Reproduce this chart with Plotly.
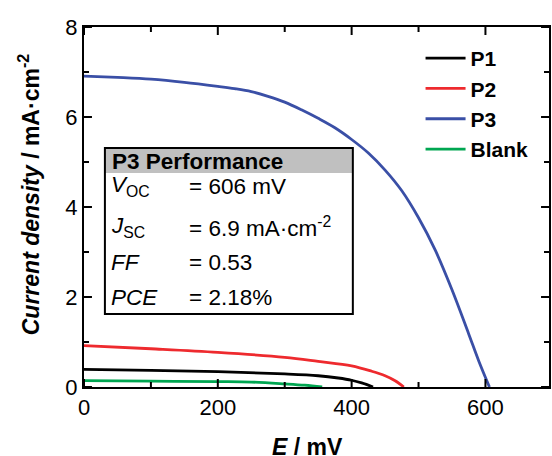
import plotly.graph_objects as go

# ---- data ----
p1_E = [0, 100, 200, 300, 350, 380, 400, 415, 432]
p1_J = [0.39, 0.37, 0.34, 0.29, 0.25, 0.20, 0.15, 0.09, 0.0]

p2_E = [0, 100, 200, 300, 350, 400, 430, 450, 465, 478]
p2_J = [0.92, 0.85, 0.77, 0.66, 0.57, 0.47, 0.35, 0.25, 0.14, 0.0]

p3_E = [0, 50, 100, 150, 200, 225, 250, 275, 300, 325, 350, 375, 400, 425, 450, 475, 500, 525, 550, 575, 590, 606]
p3_J = [6.91, 6.88, 6.84, 6.77, 6.68, 6.63, 6.565, 6.46, 6.33, 6.16, 5.97, 5.76, 5.50, 5.20, 4.82, 4.36, 3.76, 3.04, 2.16, 1.18, 0.58, 0.0]

blank_E = [0, 100, 200, 250, 300, 330, 356]
blank_J = [0.14, 0.13, 0.12, 0.11, 0.07, 0.04, 0.0]

names = ["P1", "P2", "P3", "Blank"]
colors = ["#000000", "#ee2a2e", "#3a4fa6", "#00a651"]

x_major = [0, 200, 400, 600]
x_minor = [100, 300, 500]
y_major = [0, 2, 4, 6, 8]
y_minor = [1, 3, 5, 7]

perf_header = "P3 Performance"
perf_labels = ["<i>V</i><sub>OC</sub>", "<i>J</i><sub>SC</sub>", "<i>FF</i>", "<i>PCE</i>"]
perf_values = ["= 606 mV", "= 6.9 mA·cm<sup>-2</sup>", "= 0.53", "= 2.18%"]

FONT = "Liberation Sans, Arial, sans-serif"

fig = go.Figure()
for i, (E, J) in enumerate([(p1_E, p1_J), (p2_E, p2_J), (p3_E, p3_J), (blank_E, blank_J)]):
    fig.add_trace(go.Scatter(x=E, y=J, mode="lines", name=names[i],
                             line=dict(color=colors[i], width=2.8, shape="spline", smoothing=1.0)))

L, T, W, H = 84, 27, 552, 456
R, B = 1, 69
pw = W - L - R
ph = H - T - B

def px(xp):
    return (xp - L) / pw

def py(yp):
    return (H - B - yp) / ph

axis_common = dict(showline=True, linecolor="black", linewidth=2, mirror=True,
                   ticks="", showgrid=False, zeroline=False,
                   tickfont=dict(family=FONT, size=22, color="black"))

fig.update_xaxes(range=[0, 695], tickmode="array", tickvals=x_major, **axis_common)
fig.update_yaxes(range=[0, 8], tickmode="array", tickvals=y_major, **axis_common)

# inside tick marks on all four sides (drawn at the tick values through the axes)
MAJ, MIN = 8, 5
tick_line = dict(color="black", width=2)
shapes = []
for vals, ln in ((x_major, MAJ), (x_minor, MIN)):
    for v in vals:
        shapes.append(dict(type="line", xref="x", yref="paper", x0=v, x1=v, y0=0, y1=ln / ph, line=tick_line))
        shapes.append(dict(type="line", xref="x", yref="paper", x0=v, x1=v, y0=1, y1=1 - ln / ph, line=tick_line))
for vals, ln in ((y_major, MAJ), (y_minor, MIN)):
    for v in vals:
        shapes.append(dict(type="line", xref="paper", yref="y", x0=0, x1=ln / pw, y0=v, y1=v, line=tick_line))
        shapes.append(dict(type="line", xref="paper", yref="y", x0=1, x1=1 - ln / pw, y0=v, y1=v, line=tick_line))

shapes += [
    dict(type="rect", xref="paper", yref="paper", x0=px(105), x1=px(354), y0=py(173), y1=py(148),
         fillcolor="#c0c0c0", line=dict(width=0), layer="above"),
    dict(type="rect", xref="paper", yref="paper", x0=px(105), x1=px(354), y0=py(314), y1=py(148),
         fillcolor="rgba(0,0,0,0)", line=dict(color="black", width=2), layer="above"),
]

annotations = [
    dict(text="<b><i>E</i> / mV</b>", xref="paper", yref="paper", x=px(308), y=py(447),
         xanchor="center", yanchor="middle", showarrow=False,
         font=dict(family=FONT, size=23, color="black")),
    dict(text="<b><i>Current density</i> / mA·cm<sup>-2</sup></b>", xref="paper", yref="paper",
         x=px(29), y=py(195), textangle=-90, xanchor="center", yanchor="middle", showarrow=False,
         font=dict(family=FONT, size=23, color="black")),
    dict(text="<b>" + perf_header + "</b>", xref="paper", yref="paper", x=px(110), y=py(161),
         xanchor="left", yanchor="middle", showarrow=False,
         font=dict(family=FONT, size=22.5, color="black")),
]
row_y = [186, 227, 262, 297]
for lab, val, yy in zip(perf_labels, perf_values, row_y):
    annotations.append(dict(text=lab, xref="paper", yref="paper", x=px(109), y=py(yy),
                            xanchor="left", yanchor="middle", showarrow=False,
                            font=dict(family=FONT, size=22.5, color="black")))
    annotations.append(dict(text=val, xref="paper", yref="paper", x=px(187), y=py(yy),
                            xanchor="left", yanchor="middle", showarrow=False,
                            font=dict(family=FONT, size=22.5, color="black")))

fig.update_layout(
    width=W, height=H,
    margin=dict(l=L, r=R, t=T, b=B),
    paper_bgcolor="white", plot_bgcolor="white",
    font=dict(family=FONT, color="black"),
    showlegend=True,
    legend=dict(x=px(422), y=py(38), xanchor="left", yanchor="top",
                bgcolor="rgba(0,0,0,0)", borderwidth=0,
                font=dict(family=FONT, size=21, color="black", weight="bold"),
                tracegroupgap=0, itemwidth=40),
    shapes=shapes,
    annotations=annotations,
)

fig.write_html("out.html")
